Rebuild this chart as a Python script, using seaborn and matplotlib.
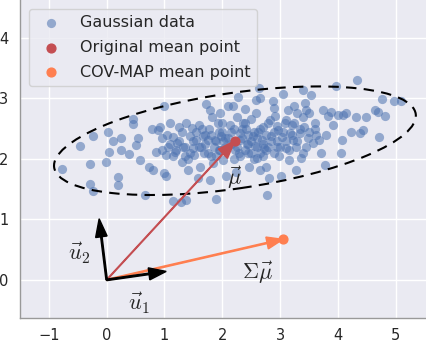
import numpy as np
import pandas as pd
import seaborn as sns
import matplotlib.pyplot as plt
from matplotlib.patches import Ellipse

# Gaussian sample
gauss_x = [-0.77, -0.47, -0.24, -0.28, -0.28, -0.23, -0.01, 0.02, 0.04, 0.11, 0.20, 0.20,
           0.24, 0.25, 0.39, 0.46, 0.46, 0.50, 0.54, 0.57, 0.66, 0.73, 0.79, 0.80, 0.86,
           0.89, 0.93, 0.96, 1.00, 1.00, 1.02, 1.03, 1.06, 1.10, 1.14, 1.15, 1.18, 1.21,
           1.26, 1.29, 1.31, 1.32, 1.35, 1.37, 1.38, 1.41, 1.44, 1.48, 1.49, 1.52, 1.55,
           1.58, 1.60, 1.61, 1.64, 1.67, 1.68, 1.72, 1.75, 1.77, 1.78, 1.79, 1.81, 1.82,
           1.84, 1.87, 1.90, 1.93, 1.94, 1.96, 1.97, 1.98, 2.01, 2.02, 2.07, 2.10, 2.13,
           2.15, 2.19, 2.22, 2.23, 2.26, 2.27, 2.29, 2.30, 2.31, 2.36, 2.39, 2.42, 2.43,
           2.45, 2.47, 2.50, 2.53, 2.56, 2.58, 2.59, 2.60, 2.62, 2.64, 2.65, 2.66, 2.68,
           2.71, 2.73, 2.76, 2.78, 2.81, 2.82, 2.85, 2.88, 2.89, 2.91, 2.94, 2.96, 2.99,
           3.01, 3.04, 3.05, 3.08, 3.11, 3.14, 3.16, 3.17, 3.20, 3.22, 3.25, 3.27, 3.28,
           3.30, 3.34, 3.37, 3.39, 3.40, 3.41, 3.43, 3.45, 3.48, 3.51, 3.54, 3.57, 3.60,
           3.63, 3.67, 3.71, 3.74, 3.77, 3.79, 3.83, 3.89, 3.92, 3.97, 4.00, 4.06, 4.08,
           4.09, 4.15, 4.23, 4.32, 4.33, 4.38, 4.44, 4.49, 4.64, 4.69, 4.72, 4.77, 4.81,
           4.98, 5.10,
           1.10, 1.20, 1.25, 1.35, 1.45, 1.50, 1.55, 1.60, 1.70, 1.75, 1.80, 1.85, 1.90,
           1.95, 2.00, 2.05, 2.10, 2.15, 2.20, 2.25, 2.35, 2.40, 2.45, 2.50, 2.55, 2.60,
           2.60, 2.65, 2.70, 2.75, 2.80, 2.85, 2.90, 2.95, 3.00, 3.05, 3.10, 3.15, 3.20,
           3.30, 3.35, 3.45, 3.50, 2.30, 2.50, 2.70, 2.90, 1.30, 1.40, 1.65, 2.00, 2.40,
           2.80, 3.10, 2.20, 2.55, 1.05, 0.95, 1.15, 2.35, 2.65, 2.95, 3.25, 3.60, 3.40,
           1.90, 1.70, 2.75, 2.45, 2.05]
gauss_y = [1.84, 2.22, 2.38, 1.92, 1.59, 1.47, 1.95, 2.45, 2.11, 2.29, 1.70, 1.57,
           2.34, 2.15, 2.08, 2.66, 2.58, 2.23, 2.35, 1.98, 1.40, 1.87, 2.50, 1.81, 2.12,
           2.48, 2.53, 2.34, 2.87, 1.76, 1.71, 2.07, 2.20, 2.60, 1.31, 2.36, 2.12, 2.26,
           2.52, 1.28, 1.94, 2.20, 2.04, 2.60, 1.32, 1.81, 2.38, 2.51, 2.18, 2.07, 2.31,
           1.69, 2.56, 1.87, 2.20, 2.37, 2.09, 2.91, 2.31, 2.49, 1.65, 2.81, 2.04, 2.70,
           1.93, 2.31, 1.34, 2.59, 2.45, 2.76, 2.15, 2.37, 1.98, 2.29, 1.72, 2.88, 2.56,
           2.45, 2.88, 2.15, 1.78, 2.69, 3.03, 2.09, 2.31, 2.42, 2.60, 2.82, 2.49, 2.25,
           2.09, 1.87, 2.66, 2.37, 2.22, 2.98, 2.76, 2.01, 2.45, 3.17, 1.82, 3.00, 2.31,
           2.53, 2.18, 1.87, 1.40, 1.69, 2.65, 2.37, 2.96, 2.84, 2.71, 2.20, 2.48, 2.04,
           1.72, 2.36, 3.07, 2.59, 2.18, 2.81, 1.98, 2.42, 2.56, 2.31, 2.87, 1.82, 2.20,
           2.76, 2.42, 2.01, 2.69, 3.13, 2.52, 2.92, 2.81, 2.34, 2.76, 3.05, 2.26, 2.60,
           2.40, 2.31, 2.09, 2.80, 1.90, 2.40, 2.71, 2.78, 2.56, 3.21, 2.73, 2.09, 2.31,
           2.73, 2.76, 2.45, 2.69, 3.31, 2.42, 2.48, 2.70, 2.81, 2.78, 2.36, 2.99, 2.71,
           2.95, 2.95,
           2.25, 2.15, 2.30, 2.20, 2.10, 2.30, 2.45, 2.20, 2.25, 2.10, 2.40, 2.20, 2.30,
           2.15, 2.45, 2.20, 2.35, 2.25, 2.50, 2.20, 2.35, 2.15, 2.40, 2.30, 2.45, 2.20,
           2.35, 2.50, 2.25, 2.40, 2.20, 2.30, 2.45, 2.30, 2.20, 2.45, 2.30, 2.15, 2.40,
           2.30, 2.50, 2.20, 2.45, 2.05, 2.10, 2.05, 2.10, 2.45, 2.00, 2.50, 2.60, 2.60,
           2.60, 2.65, 2.00, 2.00, 2.40, 2.15, 2.05, 2.50, 2.10, 2.55, 2.60, 2.50, 2.10,
           2.05, 2.40, 2.15, 2.25, 2.35]

mean_orig = (2.22, 2.30)
mean_map = (3.05, 0.67)
u1 = (1.03, 0.14)
u2 = (-0.13, 1.01)
ell_width, ell_height, ell_angle = 6.32, 1.58, 8

blue = '#4C72B0'
red = '#C44E52'
orange = '#FF7F50'

sns.set_theme(style='darkgrid')
plt.rcParams['mathtext.fontset'] = 'cm'

fig = plt.figure(figsize=(4.26, 3.42), dpi=100)
ax = fig.add_axes([20 / 426, 24 / 342, 0.963, 0.943])

df = pd.DataFrame({'x': gauss_x, 'y': gauss_y})
sns.scatterplot(data=df, x='x', y='y', color=blue, alpha=0.55, s=44,
                linewidth=0, label='Gaussian data', ax=ax, zorder=2)

# covariance ellipse
ax.add_patch(Ellipse(mean_orig, ell_width, ell_height, angle=ell_angle, fill=False,
                     edgecolor='black', lw=1.5, linestyle=(0, (5, 3.5)), zorder=3))

# arrows from the origin
ax.arrow(0, 0, mean_orig[0], mean_orig[1], width=0.012, head_width=0.22, head_length=0.3,
         length_includes_head=True, color=red, zorder=4)
ax.arrow(0, 0, mean_map[0], mean_map[1], width=0.02, head_width=0.2, head_length=0.28,
         length_includes_head=True, color=orange, zorder=4)
ax.arrow(0, 0, u1[0], u1[1], width=0.025, head_width=0.2, head_length=0.3,
         length_includes_head=True, color='black', zorder=4)
ax.arrow(0, 0, u2[0], u2[1], width=0.025, head_width=0.2, head_length=0.3,
         length_includes_head=True, color='black', zorder=4)

ax.scatter([mean_orig[0]], [mean_orig[1]], color=red, s=40, zorder=5, label='Original mean point')
ax.scatter([mean_map[0]], [mean_map[1]], color=orange, s=40, zorder=5, label='COV-MAP mean point')

ax.text(2.21, 1.68, r'$\vec{\mu}$', fontsize=16, ha='center', va='center')
ax.text(2.62, 0.11, r'$\Sigma\vec{\mu}$', fontsize=16, ha='center', va='center')
ax.text(0.56, -0.39, r'$\vec{u}_1$', fontsize=16, ha='center', va='center')
ax.text(-0.47, 0.44, r'$\vec{u}_2$', fontsize=16, ha='center', va='center')

ax.set_xlim(-1.5, 5.6)
ax.set_ylim(-0.63, 4.7)
ax.set_xticks([-1, 0, 1, 2, 3, 4, 5])
ax.set_yticks([0, 1, 2, 3, 4])
ax.set_xlabel('')
ax.set_ylabel('')
ax.tick_params(labelsize=10.5, length=0, pad=8.5)
ax.tick_params(axis='x', pad=7)
for side in ['left', 'bottom']:
    ax.spines[side].set_visible(True)
    ax.spines[side].set_color('#999999')
    ax.spines[side].set_linewidth(1)

ax.legend(loc='upper left', bbox_to_anchor=(29 / 426, 1 - 9 / 342),
          bbox_transform=fig.transFigure, borderaxespad=0, fontsize=11.5,
          labelspacing=0.6)

fig.savefig('out.png', dpi=100)
